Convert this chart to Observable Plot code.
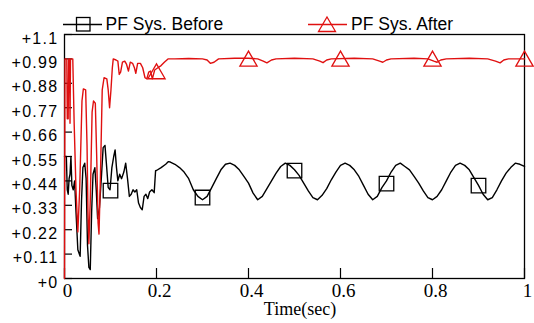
<!DOCTYPE html>
<html><head><meta charset="utf-8">
<script src="https://cdn.jsdelivr.net/npm/d3@7"></script>
<script src="https://cdn.jsdelivr.net/npm/@observablehq/plot@0.6"></script>
<style>
body{margin:0;background:#fff;}
#wrap{position:relative;width:534px;height:323px;overflow:hidden;background:#fff;}
#legend{position:absolute;left:0;top:0;pointer-events:none;z-index:2;}
#chart svg [aria-label="y-axis tick label"] text{letter-spacing:1.3px;}
</style></head><body><div id="wrap"><div id="chart"></div><div id="legend"></div></div>
<script>
const seriesNames = ["PF Sys. Before", "PF Sys. After"];
const seriesColors = ["#000000", "#e01010"];

const beforeT = [0,0.004,0.006,0.008,0.010,0.012,0.014,0.016,0.019,0.022,0.025,0.029,0.034,0.037,0.040,0.044,0.047,0.050,0.053,0.056,0.059,0.062,0.066,0.069,0.072,0.076,0.080,0.084,0.088,0.091,0.095,0.099,0.103,0.107,0.110,0.113,0.116,0.120,0.124,0.129,0.133,0.137,0.141,0.145,0.149,0.153,0.157,0.161,0.165,0.169,0.173,0.177,0.181,0.185,0.190,0.195,0.198,
0.20,0.21,0.22,0.226,0.23,0.24,0.25,0.26,0.27,0.28,0.29,0.30,0.31,0.32,0.33,0.34,0.35,0.36,0.37,0.38,0.39,0.40,0.41,0.42,0.43,0.44,0.45,0.46,0.47,0.48,0.49,0.50,0.51,0.52,0.53,0.54,0.55,0.56,0.57,0.58,0.59,0.60,0.61,0.62,0.63,0.64,0.65,0.66,0.67,0.68,0.69,0.70,0.71,0.72,0.73,0.74,0.75,0.76,0.77,0.78,0.79,0.80,0.81,0.82,0.83,0.84,0.85,0.86,0.87,0.88,0.89,0.90,0.91,0.92,0.93,0.94,0.95,0.96,0.97,0.98,0.99,1.00];
const beforeV = [0.55,0.55,0.40,0.38,0.45,0.47,0.55,0.42,0.40,0.44,0.30,0.13,0.10,0.35,0.50,0.52,0.45,0.15,0.05,0.04,0.30,0.47,0.50,0.40,0.27,0.32,0.45,0.59,0.60,0.52,0.41,0.40,0.50,0.55,0.58,0.50,0.44,0.47,0.45,0.48,0.52,0.45,0.37,0.38,0.40,0.39,0.40,0.34,0.32,0.31,0.37,0.38,0.36,0.39,0.40,0.387,0.486,
0.487,0.50,0.515,0.527,0.525,0.515,0.50,0.48,0.45,0.40,0.37,0.355,0.37,0.41,0.45,0.49,0.515,0.52,0.51,0.49,0.46,0.43,0.385,0.355,0.37,0.405,0.44,0.475,0.505,0.52,0.51,0.49,0.465,0.43,0.395,0.365,0.355,0.375,0.405,0.445,0.48,0.51,0.52,0.51,0.49,0.46,0.42,0.38,0.355,0.37,0.41,0.44,0.48,0.51,0.52,0.505,0.49,0.46,0.43,0.395,0.365,0.355,0.37,0.40,0.44,0.48,0.51,0.52,0.51,0.49,0.455,0.42,0.38,0.355,0.365,0.40,0.44,0.475,0.50,0.52,0.515,0.505];

const afterT = [0,0.001,0.005,0.006,0.008,0.009,0.011,0.012,0.013,0.018,0.021,0.025,0.029,0.033,0.038,0.041,0.046,0.049,0.051,0.053,0.056,0.060,0.063,0.067,0.070,0.073,0.075,0.078,0.082,0.086,0.092,0.095,0.098,0.101,0.104,0.106,
0.112,0.116,0.119,0.122,0.126,0.131,0.135,0.139,0.143,0.148,0.152,0.155,0.159,0.165,0.170,0.175,0.179,0.183,0.187,0.191,0.196,0.203,0.210,0.217,0.225,
0.24,0.27,0.30,0.31,0.317,0.325,0.335,0.37,0.40,0.42,0.432,0.44,0.45,0.46,0.50,0.54,0.555,0.562,0.57,0.58,0.63,0.67,0.685,0.692,0.70,0.71,0.76,0.79,0.803,0.81,0.818,0.83,0.88,0.92,0.937,0.947,0.955,0.965,1.0];
const afterV = [0,0.99,0.99,0.72,0.72,0.99,0.99,0.70,0.99,0.99,0.70,0.40,0.21,0.40,0.80,0.855,0.85,0.60,0.30,0.157,0.35,0.75,0.80,0.79,0.55,0.25,0.20,0.45,0.85,0.905,0.90,0.85,0.77,0.85,0.95,0.99,
0.985,0.98,0.92,0.93,0.975,0.98,0.965,0.935,0.975,0.97,0.95,0.925,0.97,0.97,0.95,0.905,0.90,0.93,0.935,0.90,0.94,0.95,0.96,0.975,0.99,
0.99,0.992,0.99,0.985,0.97,0.975,0.99,0.993,0.993,0.99,0.98,0.972,0.985,0.99,0.993,0.99,0.98,0.973,0.985,0.99,0.993,0.99,0.98,0.975,0.985,0.99,0.993,0.99,0.98,0.975,0.985,0.99,0.993,0.99,0.98,0.972,0.985,0.99,0.99];

const beforeMarkT = [0.1, 0.3, 0.5, 0.7, 0.9];
const beforeMarkV = [0.396, 0.365, 0.486, 0.428, 0.419];
const afterMarkT = [0.2, 0.4, 0.6, 0.8, 1.0];
const afterMarkV = [0.923, 0.98, 0.98, 0.98, 0.98];

const yTicks = [0, 0.11, 0.22, 0.33, 0.44, 0.55, 0.66, 0.77, 0.88, 0.99, 1.1];
const yTickLabels = ["+0", "+0.11", "+0.22", "+0.33", "+0.44", "+0.55", "+0.66", "+0.77", "+0.88", "+0.99", "+1.1"];
const xTicks = [0, 0.2, 0.4, 0.6, 0.8, 1];
const xTickLabels = ["0", "0.2", "0.4", "0.6", "0.8", "1"];
const xTitle = "Time(sec)";

const before = beforeT.map((t, i) => ({t, v: beforeV[i]}));
const after = afterT.map((t, i) => ({t, v: afterV[i]}));
const beforeMarks = beforeMarkT.map((t, i) => ({t, v: beforeMarkV[i]}));
const afterMarks = afterMarkT.map((t, i) => ({t, v: afterMarkV[i]}));

// legend (overlaid above the plot frame)
document.getElementById("legend").innerHTML =
`<svg width="534" height="34" style="display:block;font-family:'Liberation Sans',Arial,sans-serif;font-size:17.5px">
<line x1="63" x2="102" y1="24.5" y2="24.5" stroke="${seriesColors[0]}" stroke-width="1.4"/>
<rect x="76.5" y="17.5" width="13.5" height="13.5" fill="none" stroke="${seriesColors[0]}" stroke-width="1.3"/>
<text x="105.5" y="30" fill="#000">${seriesNames[0]}</text>
<line x1="308" x2="347" y1="24.5" y2="24.5" stroke="${seriesColors[1]}" stroke-width="1.4"/>
<path d="M327,17 L335.5,31.5 L318.5,31.5 Z" fill="none" stroke="${seriesColors[1]}" stroke-width="1.3"/>
<text x="351" y="30" fill="#000">${seriesNames[1]}</text>
</svg>`;

const W = 534, H = 323, mL = 64, mR = 10, mT = 34, mB = 45;
const fw = W - mL - mR, fh = H - mT - mB;

const chart = Plot.plot({
  width: W, height: H,
  marginLeft: mL, marginRight: mR, marginTop: mT, marginBottom: mB,
  style: {fontFamily: "'Liberation Sans', Arial, sans-serif", fontSize: "16px", background: "white", color: "#000"},
  x: {domain: [0, 1], label: null},
  y: {domain: [0, 1.1], label: null},
  marks: [
    Plot.frame({stroke: "#000", strokeWidth: 1.3}),
    Plot.tickY(yTicks, {y: d => d, insetRight: fw - 8, stroke: "#000", strokeWidth: 1.2}),
    Plot.tickX(xTicks, {x: d => d, insetTop: fh - 10, stroke: "#000", strokeWidth: 1.2}),
    Plot.line(before, {x: "t", y: "v", stroke: seriesColors[0], strokeWidth: 1.4}),
    Plot.line(after, {x: "t", y: "v", stroke: seriesColors[1], strokeWidth: 1.4}),
    Plot.dot(beforeMarks, {x: "t", y: "v", symbol: "square", r: 8.2, stroke: seriesColors[0], fill: "none", strokeWidth: 1.3}),
    Plot.dot(afterMarks, {x: "t", y: "v", symbol: "triangle", r: 6.4, stroke: seriesColors[1], fill: "none", strokeWidth: 1.3}),
    Plot.axisY(yTicks, {tickSize: 0, tickPadding: 6, dy: 4, fontSize: 16, tickFormat: d => yTickLabels[yTicks.indexOf(d)], label: null}),
    Plot.axisX(xTicks, {tickSize: 0, tickPadding: 5, dx: 3, fontSize: 19, fontFamily: "'Liberation Serif', 'Times New Roman', serif", tickFormat: d => xTickLabels[xTicks.indexOf(d)], label: null}),
    Plot.text([xTitle], {text: d => d, frameAnchor: "bottom", dy: 36, dx: 5.5, fontSize: 18, fontFamily: "'Liberation Serif', 'Times New Roman', serif", fill: "#000"})
  ]
});
document.getElementById("chart").appendChild(chart);
</script>
</body></html>
